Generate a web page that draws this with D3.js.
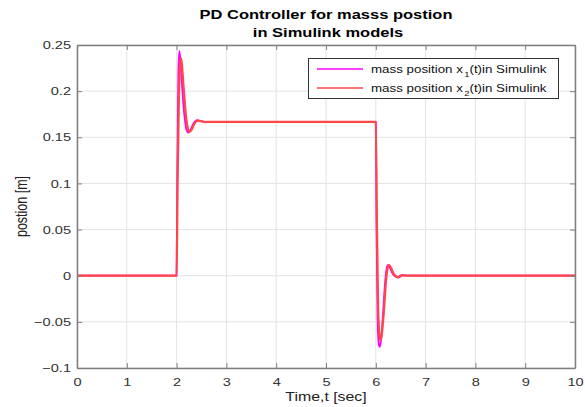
<!DOCTYPE html>
<html>
<head>
<meta charset="utf-8">
<script src="https://cdn.jsdelivr.net/npm/d3@7"></script>
<style>
  body { margin: 0; background: #fff; }
  text { font-family: "Liberation Sans", Arial, sans-serif; }
</style>
</head>
<body>
<div id="chart"></div>
<script>
// data
const t1 = [0, 2.0, 2.015, 2.035, 2.054, 2.075, 2.11, 2.16, 2.20, 2.235, 2.28, 2.34, 2.41, 2.48, 2.56, 2.65,
            6.0, 6.015, 6.035, 6.06, 6.08, 6.10, 6.14, 6.19, 6.225, 6.25, 6.29, 6.34, 6.43, 6.52, 6.65, 10];
const x1 = [0, 0, 0.12, 0.22, 0.2435, 0.235, 0.205, 0.172, 0.158, 0.155, 0.158, 0.165, 0.1685, 0.1675, 0.1665, 0.1667,
            0.1667, 0.05, -0.045, -0.074, -0.077, -0.072, -0.045, -0.005, 0.01, 0.0117, 0.008, 0.002, -0.0017, 0.0005, 0, 0];
const t2 = [0, 2.0, 2.02, 2.05, 2.08, 2.10, 2.14, 2.19, 2.23, 2.26, 2.30, 2.36, 2.43, 2.50, 2.58, 2.67,
            6.0, 6.02, 6.045, 6.07, 6.09, 6.115, 6.16, 6.21, 6.245, 6.27, 6.31, 6.36, 6.45, 6.54, 6.67, 10];
const x2 = [0, 0, 0.1, 0.205, 0.236, 0.232, 0.205, 0.172, 0.159, 0.156, 0.158, 0.165, 0.168, 0.1675, 0.1665, 0.1667,
            0.1667, 0.07, -0.03, -0.062, -0.07, -0.066, -0.04, -0.003, 0.01, 0.0115, 0.008, 0.002, -0.0017, 0.0005, 0, 0];
const xTicks = [0, 1, 2, 3, 4, 5, 6, 7, 8, 9, 10];
const yTicks = [-0.1, -0.05, 0, 0.05, 0.1, 0.15, 0.2, 0.25];
const legendLabels = [["mass position x", "1", "(t)in Simulink"], ["mass position x", "2", "(t)in Simulink"]];
const colors = ["#ff00ff", "#ff4747"];

const width = 585, height = 407;
const margin = {left: 77, right: 10, top: 45, bottom: 39};
const sx = 1.27; // the picture is stretched horizontally

const svg = d3.select("#chart").append("svg")
    .attr("width", width)
    .attr("height", height);

const x = d3.scaleLinear().domain([0, 10]).range([margin.left, width - margin.right]);
const y = d3.scaleLinear().domain([-0.1, 0.25]).range([height - margin.bottom, margin.top]);

// grid
svg.append("g").selectAll("line").data(xTicks).enter().append("line")
    .attr("x1", d => x(d)).attr("x2", d => x(d))
    .attr("y1", y(-0.1)).attr("y2", y(0.25))
    .attr("stroke", "#e3e3e3").attr("stroke-width", 1);
svg.append("g").selectAll("line").data(yTicks).enter().append("line")
    .attr("y1", d => y(d)).attr("y2", d => y(d))
    .attr("x1", x(0)).attr("x2", x(10))
    .attr("stroke", "#e3e3e3").attr("stroke-width", 1);

// series
const series = [
    t1.map((t, i) => [t, x1[i]]),
    t2.map((t, i) => [t, x2[i]])
];
const line = d3.line().x(d => x(d[0])).y(d => y(d[1])).curve(d3.curveMonotoneX);
svg.append("g").selectAll("path").data(series).enter().append("path")
    .attr("d", line)
    .attr("fill", "none")
    .attr("stroke", (d, i) => colors[i])
    .attr("stroke-width", (d, i) => i === 0 ? 1.8 : 2.2);

// axes (inward ticks, box)
const axisColor = "#7f7f7f";
const gx = svg.append("g")
    .attr("transform", `translate(0,${y(-0.1)})`)
    .call(d3.axisBottom(x).tickValues(xTicks).tickSizeInner(-5).tickSizeOuter(0).tickPadding(10));
const gy = svg.append("g")
    .attr("transform", `translate(${x(0)},0)`)
    .call(d3.axisLeft(y).tickValues(yTicks).tickSizeInner(-5).tickSizeOuter(0).tickPadding(6)
        .tickFormat(d => d3.format("")(+d.toFixed(2))));
svg.append("g")
    .attr("transform", `translate(0,${y(0.25)})`)
    .call(d3.axisTop(x).tickValues(xTicks).tickSizeInner(-5).tickSizeOuter(0).tickFormat(""));
svg.append("g")
    .attr("transform", `translate(${x(10)},0)`)
    .call(d3.axisRight(y).tickValues(yTicks).tickSizeInner(-5).tickSizeOuter(0).tickFormat(""));

svg.selectAll(".domain").attr("stroke", axisColor).attr("stroke-width", 1.5);
svg.selectAll(".tick line").attr("stroke", axisColor);
svg.selectAll(".tick text").attr("fill", "#333").style("font-size", "11.5px")
    .attr("transform", `scale(${sx},1)`);
gy.selectAll(".tick text").attr("x", -6 / sx);

// legend
const lg = svg.append("g");
lg.append("rect")
    .attr("x", 308.5).attr("y", 58.5).attr("width", 250).attr("height", 40)
    .attr("fill", "#fff").attr("stroke", "#333").attr("stroke-width", 1);
legendLabels.forEach((lab, i) => {
    const ly = 69 + i * 19;
    lg.append("line")
        .attr("x1", 317).attr("x2", 363).attr("y1", ly).attr("y2", ly)
        .attr("stroke", colors[i]).attr("stroke-width", 1.5);
    const txt = lg.append("text")
        .attr("transform", `translate(371,${ly + 4}) scale(${sx},1)`)
        .attr("fill", "#111").style("font-size", "10.5px");
    txt.append("tspan").text(lab[0]);
    txt.append("tspan").attr("dx", 1).attr("dy", 4).style("font-size", "7.5px").text(lab[1]);
    txt.append("tspan").attr("dy", -4).text(lab[2]);
});

// title and labels
const addText = (cx, cy, str, size, bold) => svg.append("text")
    .attr("transform", `translate(${cx},${cy}) scale(${sx},1)`)
    .attr("text-anchor", "middle")
    .attr("fill", bold ? "#000" : "#222")
    .style("font-size", size + "px")
    .style("font-weight", bold ? "bold" : "normal")
    .text(str);

addText(326, 19, "PD Controller for masss postion", 13, true);
addText(328, 37, "in Simulink models", 13, true);
addText(326, 401, "Time,t [sec]", 12.5, false);

svg.append("text")
    .attr("transform", `translate(27,${y(0.075)}) rotate(-90) scale(1,${sx})`)
    .attr("text-anchor", "middle")
    .attr("fill", "#222")
    .style("font-size", "12.5px")
    .text("postion [m]");
</script>
</body>
</html>
